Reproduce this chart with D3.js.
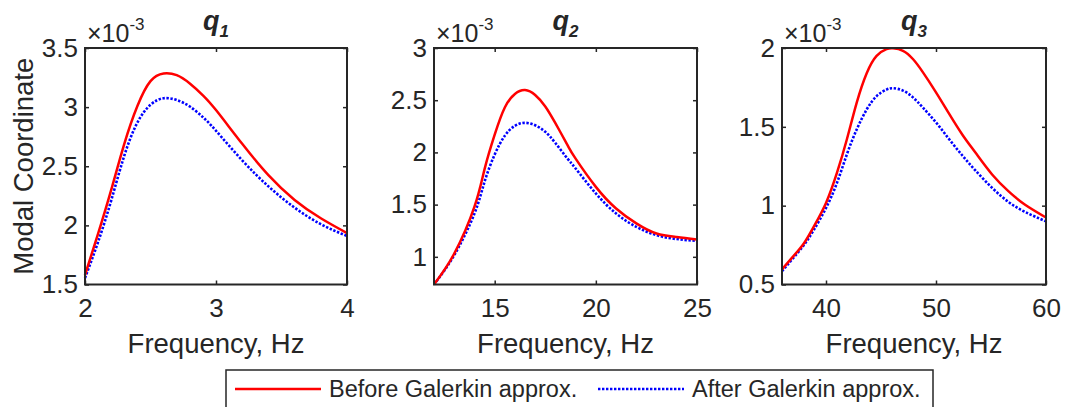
<!DOCTYPE html>
<html>
<head>
<meta charset="utf-8">
<script src="https://cdn.jsdelivr.net/npm/d3@7"></script>
<style>
  body { margin: 0; background: #fff; }
  text { font-family: "Liberation Sans", Arial, Helvetica, sans-serif; fill: #262626; }
</style>
</head>
<body>
<div id="chart"></div>
<script>
// ---- data (values are x 10^-3) ----
const freq1   = [2.0, 2.1, 2.2, 2.3, 2.4, 2.5, 2.6, 2.7, 2.8, 2.9, 3.0, 3.2, 3.4, 3.6, 3.8, 4.0];
const before1 = [1.58, 1.93, 2.30, 2.69, 3.01, 3.22, 3.285, 3.27, 3.20, 3.10, 2.975, 2.69, 2.425, 2.215, 2.06, 1.935];
const after1  = [1.555, 1.86, 2.21, 2.59, 2.87, 3.02, 3.075, 3.06, 3.005, 2.915, 2.80, 2.55, 2.33, 2.15, 2.01, 1.91];

const freq2   = [12, 13, 14, 14.5, 15, 15.5, 16, 16.5, 17, 17.5, 18, 18.6, 19, 20, 21, 22, 23, 24, 25];
const before2 = [0.735, 1.03, 1.48, 1.84, 2.17, 2.43, 2.56, 2.597, 2.55, 2.44, 2.28, 2.07, 1.94, 1.67, 1.463, 1.32, 1.223, 1.19, 1.165];
const after2  = [0.735, 1.016, 1.415, 1.72, 1.98, 2.16, 2.255, 2.283, 2.26, 2.197, 2.09, 1.94, 1.846, 1.607, 1.415, 1.287, 1.207, 1.17, 1.153];

const freq3   = [36, 37, 38, 38.9, 40, 41, 41.9, 42.8, 43.7, 44.6, 45.5, 46.1, 47, 47.9, 48.8, 50, 51.2, 52.4, 53.6, 55.1, 56.6, 58.1, 60];
const before3 = [0.596, 0.677, 0.762, 0.868, 1.017, 1.209, 1.421, 1.655, 1.84, 1.95, 1.993, 1.998, 1.982, 1.93, 1.847, 1.719, 1.582, 1.45, 1.335, 1.198, 1.091, 1.006, 0.925];
const after3  = [0.585, 0.666, 0.751, 0.847, 0.985, 1.145, 1.326, 1.485, 1.61, 1.695, 1.736, 1.745, 1.73, 1.687, 1.623, 1.528, 1.421, 1.318, 1.222, 1.113, 1.023, 0.96, 0.9];

const xTicks1 = [2, 3, 4],      yTicks1 = [1.5, 2, 2.5, 3, 3.5];
const xTicks2 = [15, 20, 25],   yTicks2 = [1, 1.5, 2, 2.5, 3];
const xTicks3 = [40, 50, 60],   yTicks3 = [0.5, 1, 1.5, 2];

const seriesNames = ["Before Galerkin approx.", "After Galerkin approx."];

// ---- layout ----
const width = 1069, height = 407;
const plotTop = 48, plotBottom = 284.5;
const axisColor = "#262626";
const dotted = "2.4,1.6";

const panels = [
  { sub: "1", freq: freq1, before: before1, after: after1, xDomain: [2, 4],   yDomain: [1.5, 3.5], xTicks: xTicks1, yTicks: yTicks1, left: 85,  right: 347 },
  { sub: "2", freq: freq2, before: before2, after: after2, xDomain: [12, 25], yDomain: [0.735, 3], xTicks: xTicks2, yTicks: yTicks2, left: 434, right: 697 },
  { sub: "3", freq: freq3, before: before3, after: after3, xDomain: [36, 60], yDomain: [0.5, 2],   xTicks: xTicks3, yTicks: yTicks3, left: 782, right: 1046 }
];

const svg = d3.select("#chart").append("svg")
    .attr("width", width)
    .attr("height", height);

function styleAxis(g, showText) {
    g.select(".domain").remove();
    g.selectAll(".tick line").attr("stroke", axisColor).attr("stroke-width", 1.5);
    g.selectAll(".tick text")
        .attr("font-size", 26)
        .attr("font-family", "Liberation Sans, Arial, sans-serif")
        .attr("fill", axisColor);
    if (!showText) g.selectAll(".tick text").remove();
}

panels.forEach(function(p, i) {
    var w = p.right - p.left, h = plotBottom - plotTop;
    var x = d3.scaleLinear().domain(p.xDomain).range([0, w]);
    var y = d3.scaleLinear().domain(p.yDomain).range([h, 0]);

    var g = svg.append("g").attr("transform", `translate(${p.left},${plotTop})`);

    // ticks on all four sides, pointing inward
    g.append("g").attr("transform", `translate(0,${h})`)
        .call(d3.axisBottom(x).tickValues(p.xTicks).tickSizeInner(-4).tickSizeOuter(0).tickPadding(14).tickFormat(d3.format("")))
        .call(styleAxis, true);
    g.append("g")
        .call(d3.axisTop(x).tickValues(p.xTicks).tickSizeInner(-4).tickSizeOuter(0))
        .call(styleAxis, false);
    g.append("g")
        .call(d3.axisLeft(y).tickValues(p.yTicks).tickSizeInner(-4).tickSizeOuter(0).tickPadding(7).tickFormat(d3.format("")))
        .call(styleAxis, true);
    g.append("g").attr("transform", `translate(${w},0)`)
        .call(d3.axisRight(y).tickValues(p.yTicks).tickSizeInner(-4).tickSizeOuter(0))
        .call(styleAxis, false);

    var line = d3.line()
        .x(d => x(d[0]))
        .y(d => y(d[1]))
        .curve(d3.curveNatural);

    g.append("path")
        .datum(d3.zip(p.freq, p.after))
        .attr("d", line)
        .attr("fill", "none")
        .attr("stroke", "#0000ff")
        .attr("stroke-width", 2.6)
        .attr("stroke-dasharray", dotted);

    g.append("path")
        .datum(d3.zip(p.freq, p.before))
        .attr("d", line)
        .attr("fill", "none")
        .attr("stroke", "#ff0000")
        .attr("stroke-width", 2.5);

    // axes box
    g.append("rect")
        .attr("width", w).attr("height", h)
        .attr("fill", "none")
        .attr("stroke", axisColor)
        .attr("stroke-width", 2);

    // exponent label
    var ex = g.append("text")
        .attr("x", 2).attr("y", -6)
        .attr("font-size", 25)
        .attr("fill", axisColor);
    ex.append("tspan").text("\u00d710");
    ex.append("tspan").attr("dy", -12).attr("font-size", 17).text("-3");

    // title
    var t = g.append("text")
        .attr("x", w / 2).attr("y", -18)
        .attr("text-anchor", "middle")
        .attr("font-weight", "bold")
        .attr("font-style", "italic")
        .attr("font-size", 27)
        .attr("fill", "#000");
    t.append("tspan").text("q");
    t.append("tspan").attr("dy", 7).attr("font-size", 17).text(p.sub);

    // x label
    g.append("text")
        .attr("x", w / 2).attr("y", 353 - plotTop)
        .attr("text-anchor", "middle")
        .attr("font-size", 27.5)
        .attr("fill", axisColor)
        .text("Frequency, Hz");

    if (i === 0) {
        g.append("text")
            .attr("transform", `translate(${33 - p.left},${h / 2}) rotate(-90)`)
            .attr("text-anchor", "middle")
            .attr("font-size", 27.5)
            .attr("fill", axisColor)
            .text("Modal Coordinate");
    }
});

// ---- legend ----
var legend = svg.append("g");
legend.append("rect")
    .attr("x", 226).attr("y", 370)
    .attr("width", 707).attr("height", 42)
    .attr("fill", "#fff")
    .attr("stroke", axisColor)
    .attr("stroke-width", 1.5);

var legendItems = [
    { name: seriesNames[0], color: "#ff0000", dash: null, x0: 235 },
    { name: seriesNames[1], color: "#0000ff", dash: dotted, x0: 598 }
];
legendItems.forEach(function(d) {
    legend.append("line")
        .attr("x1", d.x0).attr("x2", d.x0 + 86)
        .attr("y1", 389).attr("y2", 389)
        .attr("stroke", d.color)
        .attr("stroke-width", 2.4)
        .attr("stroke-dasharray", d.dash);
    legend.append("text")
        .attr("x", d.x0 + 94).attr("y", 397)
        .attr("font-size", 23.5)
        .attr("fill", "#000")
        .text(d.name);
});
</script>
</body>
</html>
